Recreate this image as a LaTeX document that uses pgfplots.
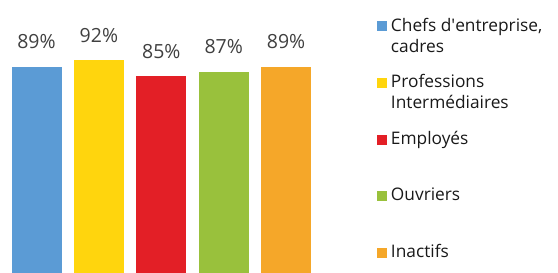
\documentclass[border=0pt]{standalone}
\usepackage{pgfplots}
\pgfplotsset{compat=1.18}
\usepackage{fontspec}
\setmainfont{Open Sans}
\newfontfamily\valfont{Open Sans}
\definecolor{cBlue}{HTML}{5B9BD5}
\definecolor{cYellow}{HTML}{FFD50D}
\definecolor{cRed}{HTML}{E31F26}
\definecolor{cGreen}{HTML}{99C13C}
\definecolor{cOrange}{HTML}{F5A729}
\definecolor{cText}{HTML}{404040}
\newcommand{\ls}{\rule[-5bp]{0pt}{14bp}}
\newcommand{\entry}[2]{\parbox[t]{175bp}{\baselineskip=21bp\ls #1\\\ls #2}}
\begin{document}
\begin{tikzpicture}
\useasboundingbox (0,0) rectangle (558bp,273bp);
\begin{axis}[
  at={(5.3bp,0bp)}, anchor=south west,
  scale only axis,
  width=312bp, height=231.5bp,
  xmin=-0.5, xmax=4.5, ymin=0, ymax=100,
  hide axis,
  clip=false,
  ybar, bar width=50bp, bar shift=0pt,
  /pgf/number format/assume math mode=true,
  nodes near coords={\pgfmathprintnumber{\pgfplotspointmeta}\%},
  every node near coord/.append style={anchor=base, yshift=18bp, font=\valfont\fontsize{19.5bp}{22bp}\selectfont, text=cText},
  legend image code/.code={\fill[#1,draw=none] (0bp,0bp) rectangle (10bp,10bp);},
  legend style={draw=none, fill=none, inner sep=0pt, outer sep=0pt,
    at={(1.1913,1.102)}, anchor=north west,
    font=\fontsize{17.3bp}{21bp}\selectfont, text=black!90,
    cells={anchor=base west}, column sep=4bp, row sep=42bp,
    nodes={inner sep=0pt, outer sep=0pt}},
]
\addplot[fill=cBlue, draw=none] coordinates {(0,89)};
\addlegendentry{\entry{Chefs d\textquotesingle entreprise,}{cadres}}
\addplot[fill=cYellow, draw=none] coordinates {(1,92)};
\addlegendentry{\entry{Professions}{Intermédiaires}}
\addplot[fill=cRed, draw=none] coordinates {(2,85)};
\addlegendentry{\entry{Employés}{}}
\addplot[fill=cGreen, draw=none] coordinates {(3,87)};
\addlegendentry{\entry{Ouvriers}{}}
\addplot[fill=cOrange, draw=none] coordinates {(4,89)};
\addlegendentry{\entry{Inactifs}{}}
\end{axis}
\end{tikzpicture}
\end{document}
